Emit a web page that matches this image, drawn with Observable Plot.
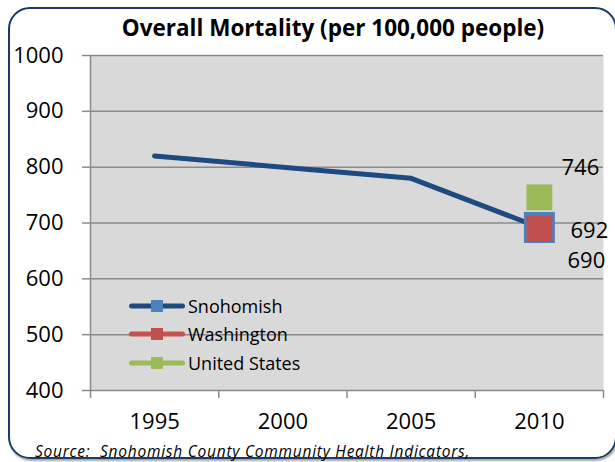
<!DOCTYPE html>
<html>
<head>
<meta charset="utf-8">
<script src="https://cdn.jsdelivr.net/npm/d3@7"></script>
<script src="https://cdn.jsdelivr.net/npm/@observablehq/plot@0.6"></script>
<style>
  body { margin: 0; background: #fff; }
  #wrap { position: relative; width: 615px; height: 462px; overflow: hidden; font-family: "Open Sans", Lato, sans-serif; }
  #wrap > svg { position: absolute; left: 0; top: 0; }
  #box { position: absolute; left: 8px; top: 7px; width: 609px; height: 452px; box-sizing: border-box;
         border: 2.5px solid #1b3a66; border-radius: 22px; pointer-events: none;
         box-shadow: 1px 2px 2px rgba(0,0,0,0.35); }
  #source { position: absolute; left: 25px; top: 433px; font-style: italic; font-size: 15.5px; letter-spacing: 0.75px; line-height: 18px; white-space: pre; color: #000; }
  #title { position: absolute; left: 333px; top: 13px; transform: translateX(-50%); font-weight: bold; font-size: 22.5px; line-height: 30px; white-space: nowrap; color: #000; }
  #legend { position: absolute; left: 129px; top: 291.5px; }
  .row { display: flex; align-items: center; height: 28.5px; font-size: 18px; color: #000; }
  .row svg { margin-right: 3px; }
</style>
</head>
<body>
<div id="wrap">
  <div id="chart"></div>
  <div id="title"></div>
  <div id="legend"></div>
  <div id="box"><div id="source"></div></div>
</div>
<script>
// ---- data ----
const years = [1995, 2000, 2005, 2010];
const snohomish = [820, 800, 780, 692];
const washingtonYear = [2010];
const washington = [690];
const usYear = [2010];
const unitedStates = [746];
const yTicks = [400, 500, 600, 700, 800, 900, 1000];
const categoryBounds = [1992.5, 1997.5, 2002.5, 2007.5, 2012.5];
const seriesNames = ["Snohomish", "Washington", "United States"];
const lineColors = ["#1f4a80", "#c9514f", "#9bbb59"];
const markerColors = ["#4f81bd", "#c0504d", "#9bbb59"];
const titleText = "Overall Mortality (per 100,000 people)";
const sourceText = "Source:  Snohomish County Community Health Indicators,";

const snoData = years.map((y, i) => ({year: y, value: snohomish[i]}));
const snoLast = [snoData[snoData.length - 1]];
const waData = washingtonYear.map((y, i) => ({year: y, value: washington[i]}));
const usData = usYear.map((y, i) => ({year: y, value: unitedStates[i]}));

const font = "'Open Sans', Lato, sans-serif";

const chart = Plot.plot({
  width: 615,
  height: 462,
  marginTop: 55,
  marginBottom: 72,
  marginLeft: 90,
  marginRight: 12,
  style: { fontFamily: font, fontSize: "22px", color: "#000", background: "transparent", overflow: "visible" },
  x: { domain: [categoryBounds[0], categoryBounds[categoryBounds.length - 1]] },
  y: { domain: [400, 1000] },
  marks: [
    Plot.frame({ fill: "#d9d9d9", stroke: null }),
    Plot.ruleY(yTicks, { stroke: "#8a8a8a", strokeWidth: 1.5 }),
    Plot.ruleX([categoryBounds[0]], { stroke: "#8a8a8a", strokeWidth: 1.5 }),
    Plot.axisY({ ticks: yTicks, tickSize: 8, tickPadding: 19, stroke: "#8a8a8a", fill: "#000", label: null, tickFormat: d => String(d), strokeWidth: 1.5 }),
    Plot.axisX({ ticks: categoryBounds, tickSize: 8, tickFormat: () => "", stroke: "#8a8a8a", label: null, strokeWidth: 1.5 }),
    Plot.axisX({ ticks: years, tickSize: 0, tickPadding: 23, tickFormat: d => String(d), fill: "#000", label: null }),
    Plot.line(snoData, { x: "year", y: "value", stroke: lineColors[0], strokeWidth: 5, strokeLinecap: "round", strokeLinejoin: "round" }),
    Plot.dot(snoLast, { x: "year", y: "value", symbol: "square", r: 17.5, fill: markerColors[0] }),
    Plot.dot(usData, { x: "year", y: "value", symbol: "square", r: 14.6, fill: markerColors[2] }),
    Plot.dot(waData, { x: "year", y: "value", symbol: "square", r: 14.6, fill: markerColors[1] }),
    Plot.text(usData, { x: "year", y: "value", text: d => String(d.value), dx: 41, dy: -29, fontSize: 22, fill: "#000" }),
    Plot.text(snoLast, { x: "year", y: "value", text: d => String(d.value), dx: 50, dy: 3, fontSize: 22, fill: "#000" }),
    Plot.text(waData, { x: "year", y: "value", text: d => String(d.value), dx: 47, dy: 32, fontSize: 22, fill: "#000" })
  ]
});
document.getElementById("chart").appendChild(chart);

document.getElementById("title").textContent = titleText;
document.getElementById("source").textContent = sourceText;

const legend = document.getElementById("legend");
seriesNames.forEach((name, i) => {
  const row = document.createElement("div");
  row.className = "row";
  row.innerHTML = `<svg width="56" height="14"><line x1="2.5" x2="53.5" y1="7" y2="7" stroke="${lineColors[i]}" stroke-width="5" stroke-linecap="round"/><rect x="22" y="1" width="12" height="12" fill="${markerColors[i]}"/></svg><span></span>`;
  row.querySelector("span").textContent = name;
  legend.appendChild(row);
});
</script>
</body>
</html>
